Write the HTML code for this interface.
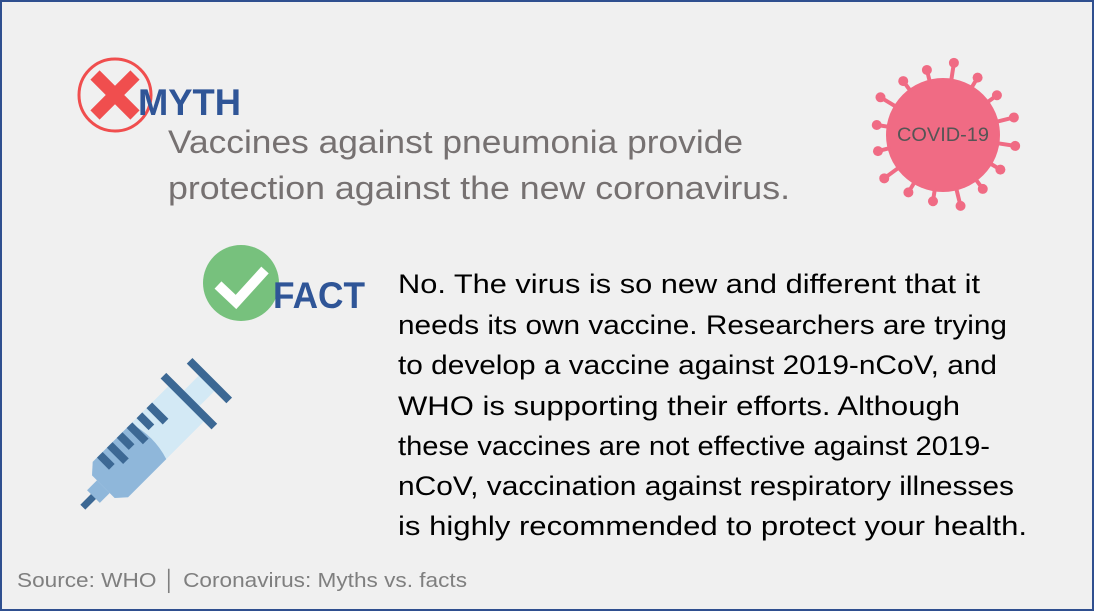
<!DOCTYPE html>
<html><head><meta charset="utf-8"><style>
html,body{margin:0;padding:0;background:#f0f0f0;}
svg{display:block;font-family:"Liberation Sans",sans-serif;}
</style></head><body>
<svg width="1094" height="611" viewBox="0 0 1094 611">
<rect x="1" y="1" width="1092" height="609" fill="#f0f0f0" stroke="#2f4f8f" stroke-width="2"/>
<g>
<circle cx="115" cy="95" r="36" fill="none" stroke="#f04e4e" stroke-width="3"/>
<path d="M95 75 L135 115 M135 75 L95 115" stroke="#f04e4e" stroke-width="13"/>
</g>
<text x="138" y="115" font-size="37" font-weight="bold" fill="#2f5597" textLength="103" lengthAdjust="spacingAndGlyphs">MYTH</text>
<g fill="#767171" font-size="32">
<text x="168" y="153" textLength="575" lengthAdjust="spacingAndGlyphs">Vaccines against pneumonia provide</text>
<text x="168" y="199" textLength="622" lengthAdjust="spacingAndGlyphs">protection against the new coronavirus.</text>
</g>
<g fill="#f06b84" stroke="#f06b84">
<circle cx="943" cy="135" r="57" stroke="none"/>
<g id="spikes" stroke-width="4">
</g>
<text x="943" y="141" font-size="19" fill="#555" stroke="none" text-anchor="middle" textLength="92" lengthAdjust="spacingAndGlyphs">COVID-19</text>
</g>
<g>
<circle cx="241" cy="283" r="38" fill="#77c17d"/>
<path d="M218 285 L236 302 L265 270" fill="none" stroke="#fff" stroke-width="10"/>
</g>
<text x="273" y="308" font-size="37" font-weight="bold" fill="#2f5597" textLength="92" lengthAdjust="spacingAndGlyphs">FACT</text>
<g fill="#000" font-size="27">
<text x="398" y="293" textLength="582" lengthAdjust="spacingAndGlyphs">No. The virus is so new and different that it</text>
<text x="398" y="334" textLength="609" lengthAdjust="spacingAndGlyphs">needs its own vaccine. Researchers are trying</text>
<text x="398" y="374" textLength="599" lengthAdjust="spacingAndGlyphs">to develop a vaccine against 2019-nCoV, and</text>
<text x="398" y="415" textLength="562" lengthAdjust="spacingAndGlyphs">WHO is supporting their efforts. Although</text>
<text x="398" y="455" textLength="592" lengthAdjust="spacingAndGlyphs">these vaccines are not effective against 2019-</text>
<text x="398" y="495" textLength="616" lengthAdjust="spacingAndGlyphs">nCoV, vaccination against respiratory illnesses</text>
<text x="398" y="535" textLength="629" lengthAdjust="spacingAndGlyphs">is highly recommended to protect your health.</text>
</g>
<g transform="translate(150,440) rotate(-45)">
<line x1="-95" y1="0" x2="-75" y2="0" stroke="#3c6894" stroke-width="7"/>
<rect x="-80" y="-9" width="16" height="18" fill="#8fb7da"/>
<path d="M-66 -16 L-56 -25 L55 -25 L55 25 L-56 25 L-66 16 Z" fill="#d3e9f5"/>
<path d="M-66 -16 L-56 -25 L-2 -25 Q6 0 -2 25 L-56 25 L-66 16 Z" fill="#8fb7da"/>
<rect x="55" y="-11" width="27" height="22" fill="#d3e9f5"/>
<line x1="55" y1="-36" x2="55" y2="36" stroke="#3c6894" stroke-width="8"/>
<line x1="84" y1="-28" x2="84" y2="28" stroke="#3c6894" stroke-width="8"/>
<g stroke="#3c6894" stroke-width="8">
<line x1="-46" y1="-25" x2="-46" y2="-8"/><line x1="-32" y1="-25" x2="-32" y2="-2"/>
<line x1="-18" y1="-25" x2="-18" y2="-8"/><line x1="-4" y1="-25" x2="-4" y2="-2"/>
<line x1="10" y1="-25" x2="10" y2="-8"/><line x1="24" y1="-25" x2="24" y2="-2"/>
</g>
</g>
<text x="17" y="587" font-size="20" fill="#7f7f7f" textLength="450" lengthAdjust="spacingAndGlyphs">Source: WHO &#x2502; Coronavirus: Myths vs. facts</text>
</svg>
<script>
const g=document.getElementById('spikes');
const n=16;
for(let i=0;i<n;i++){
 const a=i/n*2*Math.PI+0.15;
 const len=(i%3===0)?72:66;
 const x1=943+54*Math.cos(a),y1=135+54*Math.sin(a),x2=943+len*Math.cos(a),y2=135+len*Math.sin(a);
 const l=document.createElementNS('http://www.w3.org/2000/svg','line');
 l.setAttribute('x1',x1);l.setAttribute('y1',y1);l.setAttribute('x2',x2);l.setAttribute('y2',y2);
 
 
 g.appendChild(l);
 const c=document.createElementNS('http://www.w3.org/2000/svg','ellipse');
 c.setAttribute('cx',943+(len+1)*Math.cos(a));c.setAttribute('cy',135+(len+1)*Math.sin(a));c.setAttribute('rx',5);c.setAttribute('ry',5);
 c.setAttribute('stroke','none');
 
 
 g.appendChild(c);
}
</script>
</body></html>
